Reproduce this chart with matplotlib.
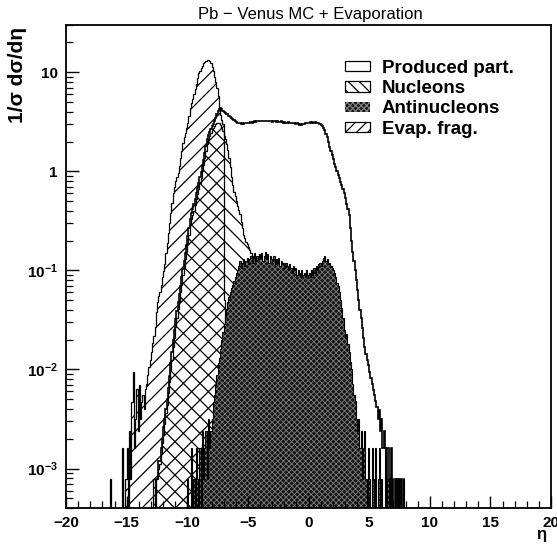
import numpy as np
import matplotlib
matplotlib.use("Agg")
import matplotlib.pyplot as plt
from matplotlib.patches import Patch
from matplotlib.ticker import FixedLocator, MultipleLocator, FuncFormatter, LogLocator

plt.rcParams['font.family'] = ['Liberation Sans', 'DejaVu Sans']
plt.rcParams['mathtext.fontset'] = 'custom'
plt.rcParams['mathtext.rm'] = 'Liberation Sans'
plt.rcParams['mathtext.bf'] = 'Liberation Sans:bold'
plt.rcParams['hatch.linewidth'] = 0.9

BIN = 0.1

# ---- data: bin contents of 1/sigma dsigma/deta, bins of width 0.1 from the given left edge
# (one line = one unit of eta)
evap_start = -16.4
evap_vals = [
    7.9e-4, 0, 0, 0, 0, 0, 0, 0, 0, 0,                                  # -16.4
    1.6e-3, 0, 0, 7.9e-4, 1.6e-3, 0, 2.4e-3, 7.9e-4, 4.7e-3, 9.5e-3,    # -15.4
    1.6e-3, 3.2e-3, 6.3e-3, 2.4e-3, 7.0e-3, 3.2e-3, 4.7e-3, 5.5e-3, 4.0e-3, 6.3e-3,  # -14.4
    7.1e-3, 8.7e-3, 0.0105, 0.0125, 0.015, 0.0185, 0.022, 0.027, 0.038, 0.048,     # -13.4
    0.055, 0.060, 0.072, 0.085, 0.098, 0.115, 0.15, 0.19, 0.24, 0.30,              # -12.4
    0.38, 0.48, 0.60, 0.70, 0.80, 0.88, 0.97, 1.12, 1.35, 1.6,                     # -11.4
    1.95, 2.2, 2.45, 2.75, 3.1, 3.6, 4.4, 4.9, 5.4, 6.0,                           # -10.4
    6.8, 7.6, 8.8, 9.8, 10.4, 11.0, 11.7, 12.3, 12.8, 13.1,                        # -9.4
    13.3, 13.2, 12.9, 12.3, 11.2, 10.2, 9.0, 7.9, 7.0, 5.8,                        # -8.4
    4.5, 3.7, 3.3, 3.0, 0.05, 0.02, 0.01, 0.005, 0.003, 0.0016,                    # -7.4
]

nucl_start = -12.8
nucl_vals = [
    7.9e-4, 0, 7.9e-4, 7.9e-4, 1.0e-3, 1.1e-3, 1.4e-3, 1.8e-3, 2.2e-3, 2.8e-3,     # -12.8
    3.6e-3, 4.4e-3, 5.8e-3, 7.4e-3, 0.0098, 0.0125, 0.017, 0.021, 0.027, 0.033,    # -11.8
    0.041, 0.049, 0.060, 0.072, 0.089, 0.107, 0.13, 0.155, 0.19, 0.23,             # -10.8
    0.29, 0.33, 0.36, 0.40, 0.46, 0.52, 0.59, 0.67, 0.76, 0.86,                    # -9.8
    1.0, 1.15, 1.35, 1.6, 1.9, 2.1, 2.28, 2.42, 2.6, 2.75,                         # -8.8
    2.88, 2.98, 3.08, 3.1, 3.05, 2.95, 2.75, 2.55, 2.3, 2.1,                       # -7.8
    1.9, 1.65, 1.35, 1.1, 0.88, 0.72, 0.62, 0.56, 0.50, 0.45,                      # -6.8
    0.41, 0.37, 0.31, 0.27, 0.23, 0.21, 0.195, 0.185, 0.172, 0.16,                 # -5.8
    0.15, 0.14, 0.132, 0.125, 0.117, 0.108, 0.10, 0.09, 0.083, 0.075,              # -4.8
    0.067, 0.060, 0.053, 0.047, 0.041, 0.036, 0.031, 0.026, 0.022, 0.019,          # -3.8
    0.016, 0.013, 0.011, 0.009, 0.0075, 0.006, 0.0048, 0.0038, 0.003, 0.0024,      # -2.8
    0.0019, 0.0016, 0.0012, 0.001, 7.9e-4, 7.9e-4,                                 # -1.8
]

anti_start = -10.0
anti_vals = [
    7.9e-4, 0, 0, 1.6e-3, 0, 7.9e-4, 0, 1.6e-3, 7.9e-4, 0,                         # -10
    1.6e-3, 0, 2.4e-3, 7.9e-4, 1.6e-3, 2.4e-3, 7.9e-4, 3.2e-3, 1.6e-3, 2.4e-3,     # -9
    3.2e-3, 4.7e-3, 5.5e-3, 7.1e-3, 8.7e-3, 0.0115, 0.013, 0.016, 0.020, 0.024,    # -8
    0.029, 0.034, 0.040, 0.048, 0.054, 0.060, 0.066, 0.072, 0.078, 0.085,          # -7
    0.095, 0.10, 0.11, 0.125, 0.105, 0.12, 0.13, 0.11, 0.125, 0.135,               # -6
    0.115, 0.13, 0.14, 0.12, 0.135, 0.15, 0.125, 0.14, 0.13, 0.145,                # -5
    0.135, 0.15, 0.125, 0.14, 0.155, 0.13, 0.145, 0.12, 0.14, 0.13,                # -4
    0.125, 0.14, 0.115, 0.13, 0.12, 0.135, 0.11, 0.125, 0.115, 0.12,               # -3
    0.105, 0.12, 0.11, 0.10, 0.115, 0.105, 0.095, 0.11, 0.10, 0.105,               # -2
    0.09, 0.10, 0.095, 0.085, 0.10, 0.09, 0.095, 0.085, 0.10, 0.09,                # -1
    0.095, 0.085, 0.10, 0.09, 0.105, 0.095, 0.11, 0.10, 0.115, 0.12,               # 0
    0.11, 0.125, 0.135, 0.14, 0.125, 0.13, 0.115, 0.12, 0.11, 0.105,               # 1
    0.10, 0.095, 0.085, 0.075, 0.070, 0.060, 0.050, 0.042, 0.033, 0.025,           # 2
    0.021, 0.023, 0.018, 0.015, 0.012, 0.010, 0.0072, 0.0055, 0.0048, 0.0032,      # 3
    0.0024, 0.0032, 0.0016, 0.0024, 7.9e-4, 0.0016, 0.0024, 7.9e-4, 0, 0.0016,     # 4
    7.9e-4, 0, 0.0016, 7.9e-4, 0, 0.0016, 0, 7.9e-4, 0.0016, 0,                    # 5
    7.9e-4, 0, 0, 0.0016, 0, 7.9e-4, 0, 0, 7.9e-4, 0,                              # 6
    0, 7.9e-4, 0, 0, 0, 7.9e-4, 0, 0, 7.9e-4, 0,                                   # 7
]

prod_start = -12.6
prod_vals = [
    7.9e-4, 7.9e-4, 1.2e-3, 1.2e-3, 1.6e-3, 2.0e-3, 2.6e-3, 3.2e-3, 4.0e-3, 5.0e-3,  # -12.6
    6.5e-3, 8.5e-3, 0.0115, 0.015, 0.020, 0.025, 0.032, 0.039, 0.048, 0.058,       # -11.6
    0.070, 0.085, 0.104, 0.125, 0.15, 0.18, 0.22, 0.27, 0.33, 0.38,                # -10.6
    0.42, 0.47, 0.53, 0.60, 0.68, 0.77, 0.87, 0.98, 1.13, 1.3,                     # -9.6
    1.52, 1.8, 2.1, 2.35, 2.5, 2.65, 2.85, 3.0, 3.2, 3.45,                         # -8.6
    3.75, 4.05, 4.3, 4.35, 4.25, 4.1, 3.95, 3.85, 3.8, 3.75,                       # -7.6
    3.65, 3.55, 3.45, 3.35, 3.3, 3.2, 3.15, 3.1, 3.05, 3.05,                       # -6.6
    3.0, 3.05, 3.0, 3.05, 3.1, 3.05, 3.1, 3.1, 3.15, 3.1,                          # -5.6
    3.15, 3.2, 3.15, 3.2, 3.25, 3.2, 3.2, 3.25, 3.2, 3.25,                         # -4.6
    3.2, 3.25, 3.2, 3.2, 3.25, 3.2, 3.15, 3.2, 3.2, 3.15,                          # -3.6
    3.2, 3.15, 3.15, 3.2, 3.15, 3.1, 3.15, 3.1, 3.1, 3.15,                         # -2.6
    3.1, 3.05, 3.1, 3.05, 3.05, 3.0, 3.05, 3.0, 2.95, 3.0,                         # -1.6
    2.95, 3.0, 3.0, 3.05, 3.05, 3.1, 3.1, 3.15, 3.1, 3.15,                         # -0.6
    3.1, 3.15, 3.1, 3.1, 3.05, 3.0, 2.95, 2.85, 2.72, 2.6,                         # 0.4
    2.4, 2.2, 2.0, 1.78, 1.6, 1.45, 1.32, 1.2, 1.1, 1.0,                           # 1.4
    0.92, 0.85, 0.78, 0.72, 0.66, 0.60, 0.54, 0.47, 0.42, 0.36,                    # 2.4
    0.27, 0.20, 0.155, 0.125, 0.10, 0.080, 0.064, 0.050, 0.040, 0.033,             # 3.4
    0.026, 0.021, 0.017, 0.0145, 0.0125, 0.011, 0.0095, 0.0082, 0.0071, 0.0062,    # 4.4
    0.0055, 0.0048, 0.0042, 0.0032, 0.0039, 0.0024, 0.0032, 0.0016, 0.0024, 0.0016,  # 5.4
    7.9e-4, 0.0016, 7.9e-4, 0, 0.0016, 7.9e-4, 0, 7.9e-4, 0, 7.9e-4,               # 6.4
    0, 7.9e-4, 0, 0, 7.9e-4, 0,                                                    # 7.4
]

labels = ["Produced part.", "Nucleons", "Antinucleons", "Evap. frag."]
title = "Pb \u2212 Venus MC + Evaporation"
xticks = [-20, -15, -10, -5, 0, 5, 10, 15, 20]
yticks = [1e-3, 1e-2, 1e-1, 1, 10]
ytick_labels = [r'$\mathbf{10^{-3}}$', r'$\mathbf{10^{-2}}$', r'$\mathbf{10^{-1}}$', '1', '10']

FLOOR = 1e-7


def edges_of(start, vals):
    return start + BIN * np.arange(len(vals) + 1)


def clipped(vals):
    v = np.asarray(vals, dtype=float)
    return np.where(v > 0, v, FLOOR)


fig = plt.figure(figsize=(5.57, 5.44), dpi=100)
ax = fig.add_axes([66 / 557, 1 - 508 / 544, (551 - 66) / 557, (508 - 25) / 544])
ax.set_yscale('log')

DARK = '#161616'
TEX = '#7c7c7c'
ax.stairs(clipped(evap_vals), edges_of(evap_start, evap_vals), fill=True, baseline=FLOOR,
          facecolor='none', edgecolor='black', hatch='//', linewidth=0.9)
ax.stairs(clipped(nucl_vals), edges_of(nucl_start, nucl_vals), fill=True, baseline=FLOOR,
          facecolor='none', edgecolor='black', hatch='\\\\', linewidth=0.9)

plt.rcParams['hatch.linewidth'] = 0.6
anti_e = edges_of(anti_start, anti_vals)
ax.stairs(clipped(anti_vals), anti_e, fill=True, baseline=FLOOR,
          facecolor=DARK, edgecolor=TEX, hatch='xxxxxx', linewidth=0)
legend_anti = Patch(facecolor=DARK, edgecolor=TEX, hatch='xxxxxx', linewidth=0)
plt.rcParams['hatch.linewidth'] = 0.9
ax.stairs(clipped(anti_vals), anti_e, fill=False, baseline=FLOOR,
          color='black', linewidth=0.8)

ax.stairs(clipped(prod_vals), edges_of(prod_start, prod_vals), fill=False, baseline=None,
          color='black', linewidth=1.2)

ax.set_xlim(-20, 20)
ax.set_ylim(4e-4, 30)

ax.xaxis.set_major_locator(FixedLocator(xticks))
ax.xaxis.set_minor_locator(MultipleLocator(1))
ax.yaxis.set_major_locator(FixedLocator(yticks))
ax.yaxis.set_minor_locator(LogLocator(base=10, subs=np.arange(2, 10)))
ax.set_yticklabels(ytick_labels)
ax.xaxis.set_major_formatter(FuncFormatter(lambda v, p: f"{int(v)}".replace('-', '\u2212')))

ax.tick_params(axis='both', which='both', direction='in', top=False, right=False)
ax.tick_params(axis='both', which='major', length=9, width=1.0, labelsize=11, pad=6)
ax.tick_params(axis='both', which='minor', length=5, width=0.9)
for lab in ax.get_xticklabels() + ax.get_yticklabels():
    lab.set_fontweight('bold')
for s in ax.spines.values():
    s.set_linewidth(1.3)

handles = [
    Patch(facecolor='white', edgecolor='black', linewidth=0.9),
    Patch(facecolor='none', edgecolor='black', hatch='\\\\\\', linewidth=0.9),
    legend_anti,
    Patch(facecolor='none', edgecolor='black', hatch='///', linewidth=0.9),
]
leg = ax.legend(handles, labels, loc='upper left', bbox_to_anchor=((345 - 66) / 485, (508 - 60) / 483),
                frameon=False, fontsize=13.5, handlelength=1.35, handleheight=0.45,
                handletextpad=0.62, labelspacing=0.17, borderpad=0, borderaxespad=0)
for t in leg.get_texts():
    t.set_fontweight('bold')

fig.text(310 / 557, 1 - 15 / 544, title, ha='center', va='center', fontsize=12)
fig.text(18 / 557, 1 - 27 / 544, "1/\u03c3 d\u03c3/d\u03b7", rotation=90, ha='center', va='top',
         fontsize=15, fontweight='bold')
fig.text(541 / 557, 1 - 534 / 544, "\u03b7", ha='center', va='center', fontsize=12, fontweight='bold')

fig.savefig('out.png', dpi=100)
